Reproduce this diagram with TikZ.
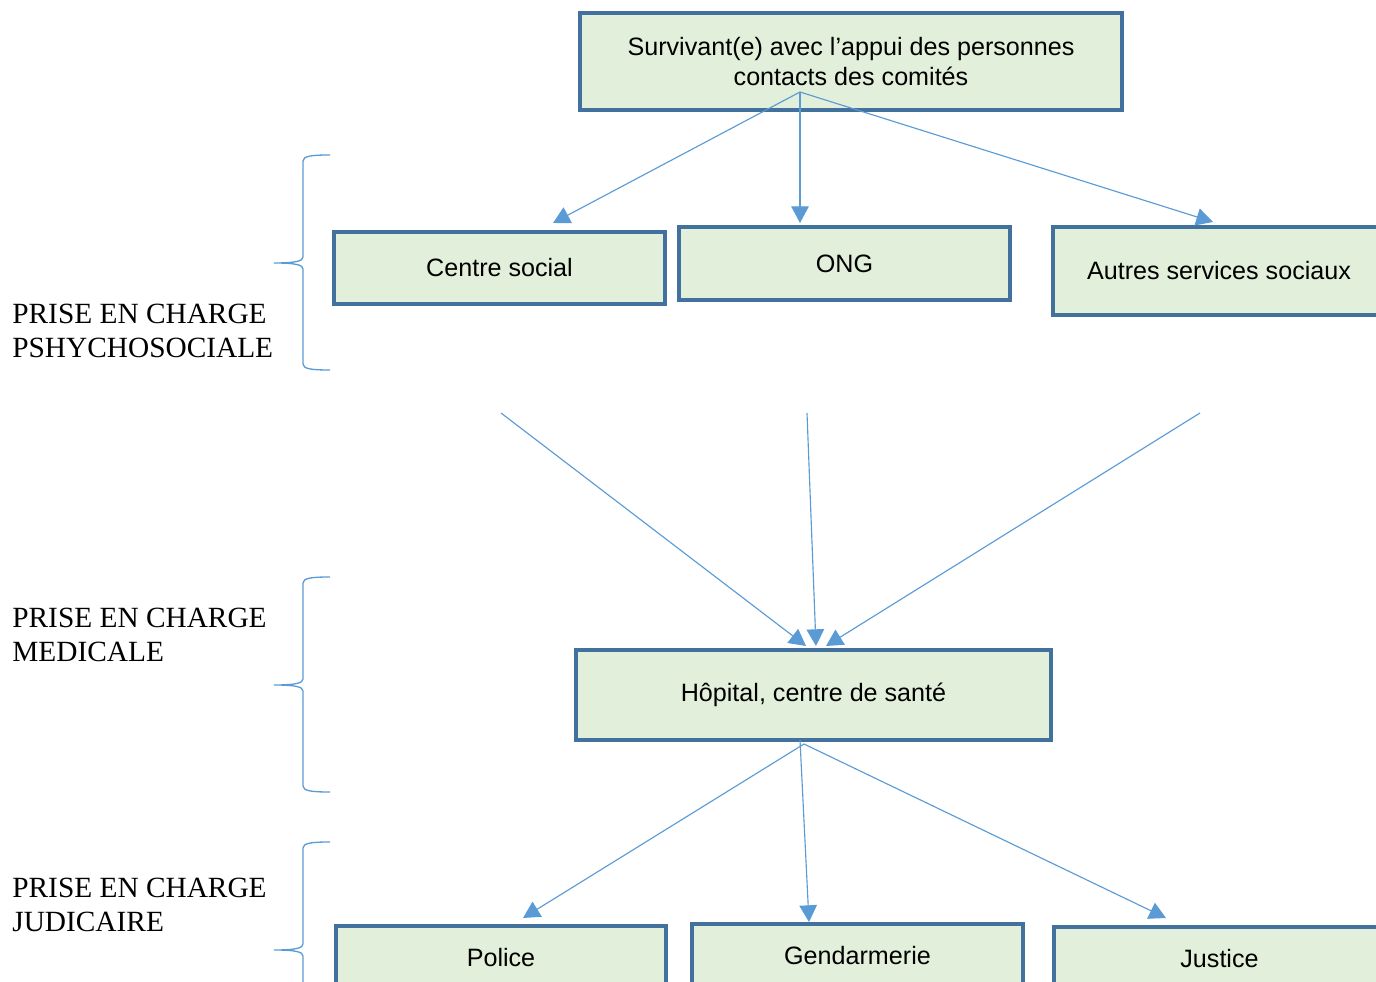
\documentclass[tikz,border=0pt]{standalone}
\usepackage{fontspec}
\setmainfont{Liberation Serif}
\newfontfamily\arialfont{Liberation Sans}
\usetikzlibrary{arrows.meta}
\definecolor{boxfill}{HTML}{E2EFDA}
\definecolor{boxline}{HTML}{41719C}
\definecolor{linkblue}{HTML}{5B9BD5}
\newcommand{\sidebrace}[1]{%
  \draw[brace, shift={(0,#1)}] (330,0) .. controls (312,0) and (303,1) .. (303,6)
    -- (303,102) .. controls (303,106) and (296,108) .. (274,108)
    .. controls (296,108) and (303,110) .. (303,114)
    -- (303,209) .. controls (303,214) and (312,215) .. (330,215);}

\begin{document}
\begin{tikzpicture}[
  x=0.02cm, y=-0.02cm,
  service/.style={rectangle, draw=boxline, fill=boxfill, line width=2pt, align=center, inner sep=0pt,
    font=\arialfont\fontsize{14.3}{17}\selectfont},
  stage/.style={anchor=west, align=left, inner sep=0pt, font=\fontsize{16.7}{19.3}\selectfont},
  arrow/.style={-{Triangle[length=9.5pt, width=10pt]}, draw=linkblue, line width=0.65pt},
  brace/.style={draw=linkblue, line width=0.75pt}
]
\useasboundingbox (0,0) rectangle (1376,982);

\node[service, minimum width=10.84cm, minimum height=1.94cm] (surv) at (851,61.5)
  {Survivant(e) avec l’appui des personnes\\contacts des comités};
\node[service, minimum width=6.62cm, minimum height=1.44cm] (centre) at (499.5,268) {Centre social};
\node[service, minimum width=6.62cm, minimum height=1.46cm] (ong) at (844.5,263.5) {ONG};
\node[service, minimum width=6.64cm, minimum height=1.76cm] (autres) at (1219,271) {Autres services sociaux};
\node[service, minimum width=9.5cm, minimum height=1.8cm] (hopital) at (813.5,695) {Hôpital, centre de santé};
\node[service, minimum width=6.6cm, minimum height=1.28cm] (police) at (501,958) {Police};
\node[service, minimum width=6.62cm, minimum height=1.28cm] (gendarmerie) at (857.5,956) {Gendarmerie};
\node[service, minimum width=6.62cm, minimum height=1.28cm] (justice) at (1219.5,959) {Justice};

\node[stage] (psycho) at (12,331) {PRISE EN CHARGE\\PSHYCHOSOCIALE};
\node[stage] (medic) at (12,635) {PRISE EN CHARGE\\MEDICALE};
\node[stage] (judic) at (12,905) {PRISE EN CHARGE\\JUDICAIRE};

\sidebrace{155}
\sidebrace{577}
\sidebrace{842}

\coordinate (surv-out) at (800,92);
\coordinate (centre-in) at (553,223);
\coordinate (ong-in) at (800,223);
\coordinate (autres-in) at (1213,222);
\coordinate (centre-out) at (501,413);
\coordinate (ong-out) at (807,413);
\coordinate (autres-out) at (1200,413);
\coordinate (hop-in-a) at (806,646);
\coordinate (hop-in-b) at (816,646);
\coordinate (hop-in-c) at (826,646);
\coordinate (hop-out-a) at (800,740);
\coordinate (hop-out-b) at (804,744);
\coordinate (police-in) at (523,918);
\coordinate (gend-in) at (809,922);
\coordinate (justice-in) at (1166,918);

\draw[arrow] (surv-out) -- (centre-in);
\draw[arrow] (surv-out) -- (ong-in);
\draw[arrow] (surv-out) -- (autres-in);
\draw[arrow] (centre-out) -- (hop-in-a);
\draw[arrow] (ong-out) -- (hop-in-b);
\draw[arrow] (autres-out) -- (hop-in-c);
\draw[arrow] (hop-out-b) -- (police-in);
\draw[arrow] (hop-out-a) -- (gend-in);
\draw[arrow] (hop-out-b) -- (justice-in);
\end{tikzpicture}
\end{document}
